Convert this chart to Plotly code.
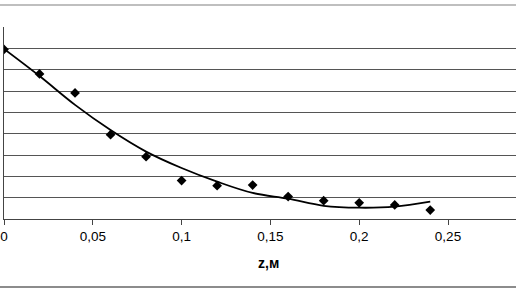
import plotly.graph_objects as go

# measured points
z_vals = [0, 0.02, 0.04, 0.06, 0.08, 0.10, 0.12, 0.14, 0.16, 0.18, 0.20, 0.22, 0.24]
y_vals = [7.95, 6.80, 5.91, 3.95, 2.92, 1.80, 1.56, 1.59, 1.05, 0.86, 0.76, 0.66, 0.42]

# trend line
trend_z = [0, 0.02, 0.04, 0.06, 0.08, 0.10, 0.12, 0.14, 0.16, 0.18, 0.20, 0.22, 0.24]
trend_y = [7.97, 6.70, 5.35, 4.17, 3.16, 2.39, 1.75, 1.22, 0.95, 0.62, 0.53, 0.58, 0.81]

tick_vals = [0, 0.05, 0.10, 0.15, 0.20, 0.25]
tick_text = ["0", "0,05", "0,1", "0,15", "0,2", "0,25"]
x_title = "z,м"

fig = go.Figure()
fig.add_trace(go.Scatter(x=trend_z, y=trend_y, mode="lines",
                         line=dict(color="black", width=1.8, shape="spline"),
                         hoverinfo="skip", showlegend=False))
fig.add_trace(go.Scatter(x=z_vals, y=y_vals, mode="markers",
                         marker=dict(symbol="diamond", size=7.5, color="black"),
                         showlegend=False))

fig.update_layout(
    width=516, height=290,
    margin=dict(l=4, r=0, t=27, b=71),
    paper_bgcolor="white", plot_bgcolor="white",
    font=dict(family="Arial, Liberation Sans, sans-serif", color="black"),
    xaxis=dict(range=[0, 512/1776], tickvals=tick_vals, ticktext=tick_text,
               showgrid=False, zeroline=False, showline=True, linecolor="#444",
               linewidth=1, ticks="outside", ticklen=5, tickcolor="#444",
               tickfont=dict(size=13.5)),
    yaxis=dict(range=[0, 9], dtick=1, showgrid=True, gridcolor="#555",
               gridwidth=1, zeroline=False, showline=True, linecolor="#444",
               linewidth=1, showticklabels=False, ticks=""),
    shapes=[
        dict(type="line", xref="paper", yref="paper", x0=-0.01, x1=1.01,
             y0=1 + 22/192, y1=1 + 22/192, line=dict(color="#aaa", width=1.5)),
        dict(type="line", xref="paper", yref="paper", x0=-0.01, x1=1.01,
             y0=-68/192, y1=-68/192, line=dict(color="#666", width=1.5)),
    ],
    annotations=[dict(text="<b>" + x_title + "</b>", xref="paper", yref="paper",
                      x=264/512, y=-44/192, showarrow=False,
                      xanchor="center", yanchor="middle",
                      font=dict(size=14, color="black"))],
)

fig.write_html("out.html")
